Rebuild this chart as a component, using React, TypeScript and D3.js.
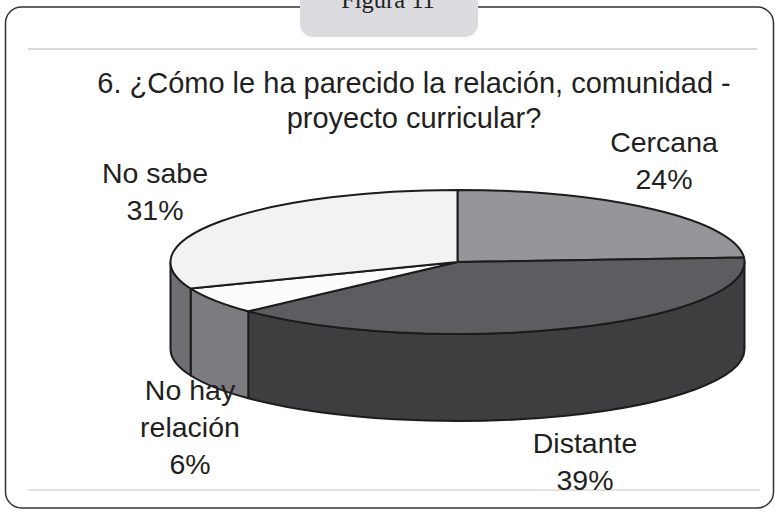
import React from "react";
import * as d3 from "d3";

const categories = ["Cercana", "Distante", "No hay relación", "No sabe"];
const values = [24, 39, 6, 31];
const labelNames = [["Cercana"], ["Distante"], ["No hay", "relación"], ["No sabe"]];
const topColors = ["#96969a", "#5d5d61", "#fcfcfc", "#f2f2f3"];
const sideColors = ["#5a5a5e", "#3e3e41", "#7c7c80", "#6f6f73"];
const titleLines = ["6. ¿Cómo le ha parecido la relación, comunidad -", "proyecto curricular?"];

// layout only (label anchors: center x, first baseline)
const labelAnchors = [
  [664, 152],
  [585, 453],
  [190, 400],
  [155, 183],
];

const W = 779;
const H = 513;
const cx = 457.5;
const cy = 262;
const rx = 287;
const ry = 72;
const depth = 87;

const pt = (a: number, dy = 0) => [cx + rx * Math.sin(a), cy - ry * Math.cos(a) + dy];

const topPath = (a0: number, a1: number) => {
  const [x0, y0] = pt(a0);
  const [x1, y1] = pt(a1);
  const large = a1 - a0 > Math.PI ? 1 : 0;
  return `M${cx},${cy}L${x0},${y0}A${rx},${ry} 0 ${large} 1 ${x1},${y1}Z`;
};

const sidePath = (a0: number, a1: number) => {
  const s = Math.max(a0, Math.PI / 2);
  const e = Math.min(a1, (3 * Math.PI) / 2);
  if (e <= s) return null;
  const [x0, y0] = pt(s);
  const [x1, y1] = pt(e);
  const [x2, y2] = pt(e, depth);
  const [x3, y3] = pt(s, depth);
  return `M${x0},${y0}A${rx},${ry} 0 0 1 ${x1},${y1}L${x2},${y2}A${rx},${ry} 0 0 0 ${x3},${y3}Z`;
};

export default function App() {
  const arcs = d3
    .pie<number>()
    .sort(null)
    .value((d) => d)(values);

  const font = "'Liberation Sans', Arial, sans-serif";
  const stroke = "#1c1c1c";

  return (
    <svg
      width={W}
      height={H}
      viewBox={`0 0 ${W} ${H}`}
      style={{ position: "absolute", left: 0, top: 0, background: "#fff" }}
    >
      <rect x={5.5} y={7} width={768} height={501} rx={16} fill="#fff" stroke="#333" strokeWidth={1.5} />
      <rect x={300} y={-20} width={178} height={57} rx={13} fill="#dcdce0" />
      <text x={388} y={8} textAnchor="middle" fontFamily="'Liberation Serif', 'Times New Roman', serif" fontSize={24.5} fill="#222">
        Figura 11
      </text>
      <line x1={28} x2={757} y1={49} y2={49} stroke="#b4b4b4" strokeWidth={1.2} />
      <line x1={28} x2={760} y1={490} y2={490} stroke="#c8c8c8" strokeWidth={1.2} />

      {titleLines.map((t, i) => (
        <text key={t} x={414} y={93 + i * 35} textAnchor="middle" fontFamily={font} fontSize={29} fill="#231f20">
          {t}
        </text>
      ))}

      <g stroke={stroke} strokeWidth={2} strokeLinejoin="round">
        {arcs.map((a, i) => {
          const d = sidePath(a.startAngle, a.endAngle);
          return d ? <path key={"s" + categories[i]} d={d} fill={sideColors[i]} /> : null;
        })}
        {arcs.map((a, i) => (
          <path key={"t" + categories[i]} d={topPath(a.startAngle, a.endAngle)} fill={topColors[i]} />
        ))}
      </g>

      {arcs.map((a, i) => {
        const [lx, ly] = labelAnchors[i];
        const lines = [...labelNames[i], `${values[i]}%`];
        return (
          <text key={"l" + categories[i]} textAnchor="middle" fontFamily={font} fontSize={28.5} fill="#231f20">
            {lines.map((l, j) => (
              <tspan key={j} x={lx} y={ly + j * 37}>
                {l}
              </tspan>
            ))}
          </text>
        );
      })}
    </svg>
  );
}
